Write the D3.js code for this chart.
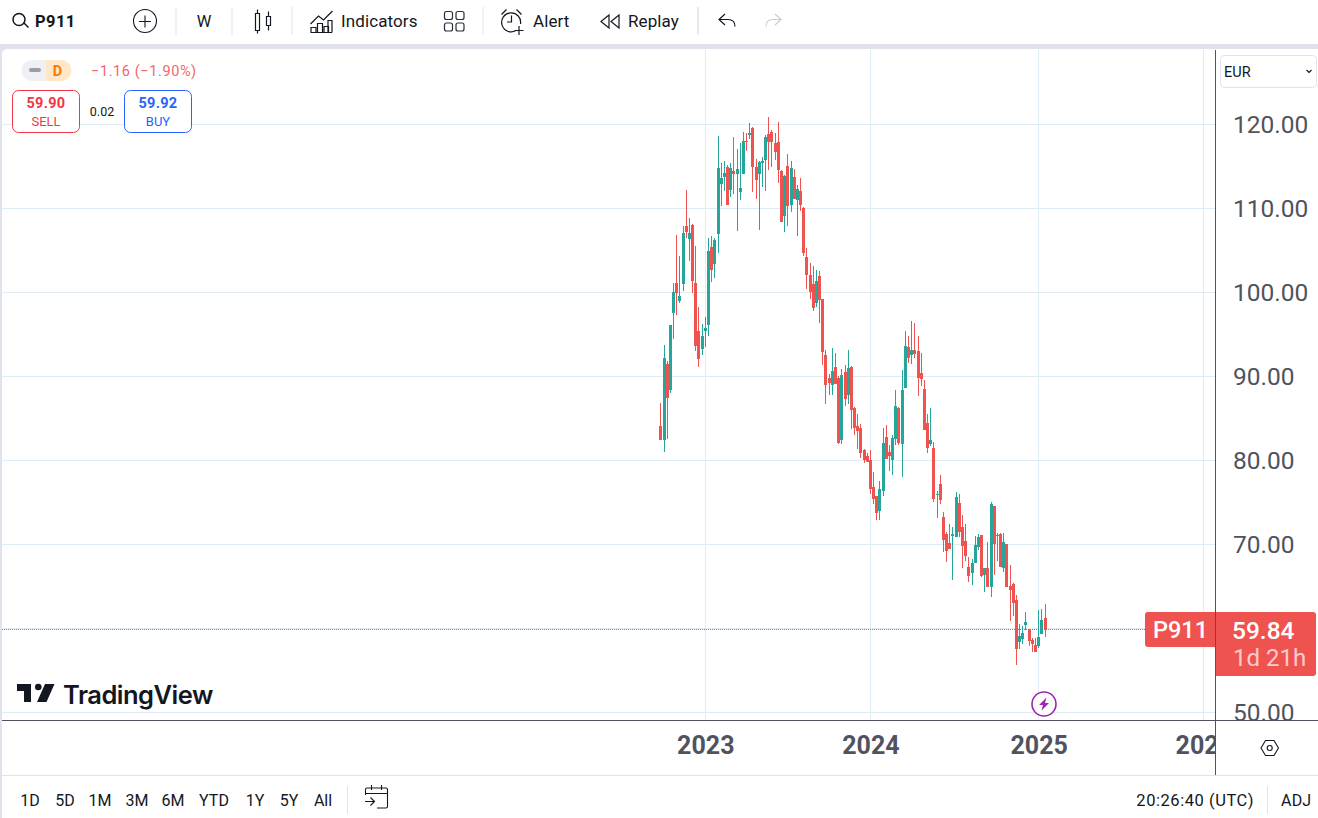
<!DOCTYPE html>
<html>
<head>
<meta charset="utf-8">
<title>P911</title>
<script src="https://cdn.jsdelivr.net/npm/d3@7"></script>
<style>
html, body { margin: 0; padding: 0; background: #fff; overflow: hidden; }
svg { display: block; font-family: Roboto, sans-serif; }
</style>
</head>
<body>
<script>
// weekly candles
var opens = [
  84.11,82.44,91.49,88.39,97.56,101.13,98.99,101.02,107.92,106.37,
  108.04,101.13,95.42,93.28,95.42,96.13,105.42,103.40,106.97,112.92,
  113.75,114.94,112.21,114.47,114.11,111.97,114.11,118.04,118.75,119.59,
  114.94,114.11,115.42,115.78,118.87,119.11,117.80,117.92,114.47,109.11,
  115.06,110.42,113.75,111.02,112.09,110.06,104.23,102.08,101.01,98.75,
  101.96,99.23,92.56,89.82,88.99,91.13,89.82,82.44,90.53,87.80,
  91.13,86.25,84.11,83.87,81.25,80.53,80.06,76.84,75.77,73.99,
  76.37,82.80,81.01,80.06,82.56,86.25,81.96,88.63,93.51,92.56,
  93.15,93.03,90.42,88.51,84.46,81.96,81.49,75.89,77.20,73.28,
  71.25,70.18,71.01,70.89,74.94,72.08,70.42,67.32,66.61,67.80,
  69.70,71.13,66.37,67.20,64.94,74.58,71.13,71.25,67.20,70.06,
  65.06,65.30,63.39,58.39,58.75,60.42,59.94,58.63,58.04,57.92,59.35,61.25
];
var highs = [
  86.85,93.75,91.85,96.13,101.13,106.85,104.35,107.92,112.21,108.87,
  108.16,105.54,98.28,96.25,97.09,106.49,106.73,106.49,118.63,115.42,
  115.66,115.18,115.42,118.52,117.09,117.80,119.11,118.99,120.18,119.71,
  115.90,115.66,116.13,118.75,120.90,119.35,118.99,120.30,114.59,113.99,
  116.49,115.66,114.71,112.80,113.63,110.18,105.30,103.51,103.15,102.68,
  102.56,99.23,93.15,90.30,93.39,92.80,90.06,90.89,91.37,93.15,
  91.25,86.37,85.53,84.34,81.37,80.89,81.25,78.63,75.77,77.56,
  83.87,84.23,81.84,83.03,88.39,86.37,90.77,95.42,94.82,96.61,
  96.37,94.82,92.80,89.58,85.53,86.25,82.20,76.37,78.27,73.87,
  71.49,72.44,72.08,76.25,76.01,73.51,72.44,68.51,68.27,71.01,
  71.25,71.13,67.20,70.30,75.06,74.58,71.37,71.37,71.37,70.06,
  67.56,65.42,63.99,60.54,60.30,61.97,59.94,58.87,58.87,62.20,62.32,62.92
];
var lows = [
  82.44,81.01,82.56,88.04,94.47,97.32,98.75,100.18,106.49,103.75,
  99.94,93.04,91.13,92.56,93.51,94.83,101.25,101.73,104.71,110.30,
  112.09,110.42,111.37,111.73,107.33,111.02,114.11,116.85,118.28,111.97,
  111.13,107.44,112.56,112.09,114.59,114.94,115.78,113.04,108.40,107.21,
  107.92,109.59,111.13,106.73,109.71,104.35,100.42,99.23,97.80,98.27,
  96.37,91.37,86.73,87.80,87.80,89.11,81.96,81.96,86.49,86.73,
  83.75,83.03,81.37,80.30,79.70,79.82,76.01,74.82,72.92,72.92,
  75.77,80.18,78.75,78.27,81.84,81.84,78.03,88.63,91.61,91.49,
  92.20,87.68,88.87,83.63,80.89,81.73,75.06,73.15,74.82,69.11,
  67.92,69.47,65.78,70.89,70.89,67.20,68.04,65.54,65.18,67.80,
  69.35,66.13,64.35,64.94,63.75,66.37,68.04,67.32,66.73,64.94,
  60.89,61.49,55.66,57.56,58.16,59.82,57.92,57.20,57.20,57.68,59.35,58.99
];
var closes = [
  82.44,92.20,87.44,96.13,100.06,99.94,99.59,107.09,107.21,107.09,
  101.37,93.63,92.09,94.82,95.78,104.94,102.68,106.25,114.83,113.63,
  114.23,110.42,114.83,114.11,114.71,112.44,118.04,117.92,118.99,114.94,
  113.40,115.54,115.66,118.52,117.92,117.92,116.73,114.59,108.40,113.87,
  110.30,114.83,111.13,112.33,110.42,104.71,102.08,100.06,98.15,101.37,
  99.11,92.92,88.99,89.23,90.65,89.11,82.08,90.18,87.32,91.01,
  86.01,83.87,83.51,80.89,80.06,79.82,76.61,75.42,73.75,76.61,
  82.08,80.18,80.53,82.68,86.49,82.08,88.39,93.63,92.20,93.15,
  92.68,89.82,89.70,83.63,81.49,82.44,75.42,76.01,75.30,70.54,
  69.23,69.47,71.25,75.66,71.49,69.82,68.63,66.25,67.80,69.94,
  70.89,66.25,67.20,64.94,74.82,70.06,71.01,67.32,70.30,64.94,
  64.58,63.04,57.56,59.11,59.47,60.78,58.51,58.16,57.20,58.99,61.01,59.84
];
var priceTicks = [50, 60, 70, 80, 90, 100, 110, 120];
var priceLabelTicks = [50, 70, 80, 90, 100, 110, 120];
var yearWeeks = [14, 66, 119, 171];
var yearLabels = ["2023", "2024", "2025", "2026"];
var lastPrice = 59.84;
var rangeLabels = ["1D", "5D", "1M", "3M", "6M", "YTD", "1Y", "5Y", "All"];
var rangeCenters = [30, 65, 100, 137, 173, 214, 255, 289, 323];

var width = 1318,
    height = 818,
    paneRight = 1215,
    paneBottom = 720,
    red = "#ef5350",
    teal = "#26a69a",
    grid = "#e0ecf3",
    ink = "#131722",
    axisInk = "#50535e",
    band = "#e0e3eb";

var x = d3.scaleLinear().domain([0, 119]).range([660.85, 1038.68]);
var y = d3.scaleLinear().domain([50, 120]).range([712.5, 124.5]);
var px = function(i) { return Math.floor(x(i)) + 0.5; };

var svg = d3.select("body").append("svg")
    .attr("width", width)
    .attr("height", height);

var defs = svg.append("defs");
defs.append("clipPath").attr("id", "pane").append("rect")
    .attr("x", 2).attr("y", 50).attr("width", paneRight - 2).attr("height", paneBottom - 50);
defs.append("clipPath").attr("id", "priceClip").append("rect")
    .attr("x", paneRight).attr("y", 50).attr("width", width - paneRight).attr("height", paneBottom - 50);
defs.append("clipPath").attr("id", "timeClip").append("rect")
    .attr("x", 0).attr("y", paneBottom).attr("width", paneRight).attr("height", 55);

// page chrome
svg.append("rect").attr("width", width).attr("height", height).attr("fill", "#fff");
svg.append("path")
    .attr("fill", band)
    .attr("d", "M0,44H1318V49H8Q2,49 2,55V818H0Z");

// grid
var gridG = svg.append("g").attr("clip-path", "url(#pane)");
gridG.selectAll(".h").data(priceTicks).enter().append("line")
    .attr("x1", 2).attr("x2", paneRight)
    .attr("y1", function(d) { return Math.floor(y(d)) + 0.5; })
    .attr("y2", function(d) { return Math.floor(y(d)) + 0.5; })
    .attr("stroke", grid);
gridG.selectAll(".v").data(yearWeeks).enter().append("line")
    .attr("x1", px).attr("x2", px)
    .attr("y1", 50).attr("y2", paneBottom)
    .attr("stroke", grid);

// last price line
svg.append("line")
    .attr("x1", 2).attr("x2", 1145)
    .attr("y1", Math.floor(y(lastPrice)) + 0.5).attr("y2", Math.floor(y(lastPrice)) + 0.5)
    .attr("stroke", red)
    .attr("stroke-dasharray", "1,1");

// candles
var candle = svg.append("g").attr("clip-path", "url(#pane)")
    .selectAll("g")
    .data(d3.range(opens.length))
    .enter().append("g")
    .attr("fill", function(i) { return closes[i] >= opens[i] ? teal : red; });

candle.append("rect")
    .attr("x", function(i) { return px(i) - 0.5; })
    .attr("width", 1)
    .attr("y", function(i) { return Math.round(y(highs[i])); })
    .attr("height", function(i) { return Math.max(1, Math.round(y(lows[i])) - Math.round(y(highs[i]))); });

candle.append("rect")
    .attr("x", function(i) { return px(i) - 1.5; })
    .attr("width", 3)
    .attr("y", function(i) { return Math.round(y(Math.max(opens[i], closes[i]))); })
    .attr("height", function(i) {
        return Math.max(1, Math.round(y(Math.min(opens[i], closes[i]))) - Math.round(y(Math.max(opens[i], closes[i]))));
    });

// axes
var priceAxis = svg.append("g")
    .attr("clip-path", "url(#priceClip)")
    .append("g")
    .attr("transform", "translate(1233,0)")
    .call(d3.axisRight(y).tickValues(priceLabelTicks).tickSize(0).tickPadding(0).tickFormat(d3.format(".2f")));
priceAxis.select(".domain").remove();
priceAxis.selectAll("text")
    .attr("font-family", "Roboto, sans-serif")
    .attr("font-size", 24.5)
    .attr("fill", axisInk);

var timeAxis = svg.append("g")
    .attr("clip-path", "url(#timeClip)")
    .append("g")
    .attr("transform", "translate(0,736)")
    .call(d3.axisBottom(x).tickValues(yearWeeks).tickSize(0).tickPadding(0)
        .tickFormat(function(d, i) { return yearLabels[i]; }));
timeAxis.select(".domain").remove();
timeAxis.selectAll("text")
    .attr("font-family", "Roboto, sans-serif")
    .attr("font-size", 25)
    .attr("font-weight", 700)
    .attr("fill", axisInk);

// pane borders
svg.append("path")
    .attr("fill", "none")
    .attr("stroke", axisInk)
    .attr("d", "M2,720.5H1318M1215.5,50V775");
svg.append("line")
    .attr("x1", 2).attr("x2", 1318).attr("y1", 775.5).attr("y2", 775.5)
    .attr("stroke", band);

function label(text, lx, ly, size, fill, anchor, weight) {
    return svg.append("text")
        .attr("x", lx).attr("y", ly)
        .attr("font-size", size)
        .attr("fill", fill)
        .attr("text-anchor", anchor || "start")
        .attr("font-weight", weight || 400)
        .attr("dominant-baseline", "central")
        .text(text);
}
function icon(d, color, w) {
    return svg.append("path")
        .attr("d", d)
        .attr("fill", "none")
        .attr("stroke", color || ink)
        .attr("stroke-width", w || 1.2);
}

// last price labels
svg.append("path").attr("fill", red)
    .attr("d", "M1215,612V647H1148Q1145,647 1145,644V615Q1145,612 1148,612Z");
svg.append("path").attr("fill", red)
    .attr("d", "M1216,612H1313Q1316,612 1316,615V673Q1316,676 1313,676H1216Z");
label("P911", 1153, 630, 23.5, "#fff", "start", 500);
label("59.84", 1232, 630, 24.5, "#fff", "start", 500);
label("1d 21h", 1233, 658, 24, "#fff").attr("opacity", 0.7);

// top toolbar
icon("M23.5,22.5l5,5", ink, 1.5);
svg.append("circle").attr("cx", 19).attr("cy", 19.5).attr("r", 6).attr("fill", "none").attr("stroke", ink).attr("stroke-width", 1.5);
label("P911", 35, 21, 16.5, ink, "start", 700).attr("letter-spacing", 0.4);
svg.append("circle").attr("cx", 145).attr("cy", 21).attr("r", 11.5).attr("fill", "none").attr("stroke", ink).attr("stroke-width", 1.1);
icon("M139,21.5H151M145,15.5V27.5", ink, 1.1);
label("W", 204, 21, 16.5, ink, "middle");
svg.selectAll(".sep").data([[176, 1], [232, 1], [292, 1], [483, 1], [698, 1.5]]).enter().append("line")
    .attr("x1", function(d) { return d[0]; }).attr("x2", function(d) { return d[0]; })
    .attr("y1", 7).attr("y2", 35)
    .attr("stroke", band)
    .attr("stroke-width", function(d) { return d[1]; });
// candles icon
icon("M255.5,13.5h4v17h-4zM257.5,9.5v4M257.5,30.5v3M266.5,16.5h4v9h-4zM268.5,11.5v5M268.5,25.5v5");
// indicators icon
icon("M310.5,24l8,-8l5,4l9,-9M311,32.5v-5h5v5M317.5,32.5v-9h5v9M324,32.5v-6h4.5v6M310.5,32.5h21.5M328,32.5v-12h4v12");
label("Indicators", 341, 21, 17, ink).attr("letter-spacing", 0.1);
// layouts icon
svg.selectAll(".cell").data([[444.5, 11.5], [456, 11.5], [444.5, 23], [456, 23]]).enter().append("rect")
    .attr("x", function(d) { return d[0]; }).attr("y", function(d) { return d[1]; })
    .attr("width", 8).attr("height", 8).attr("rx", 2)
    .attr("fill", "none").attr("stroke", "#2a2e39").attr("stroke-width", 1.2);
// alert icon
icon("M520.5,24a9.5,9.5 0 1 0 -4.5,6.5M511.5,15.5v6.5h-4.5M501.5,14.5l5,-5M516.5,9.5l5,5M519,26v9M514.5,30.5h9");
label("Alert", 533, 21, 17, ink).attr("letter-spacing", 0.1);
// replay icon
icon("M609,15l-8,6.5l8,6.5zM619,15l-8,6.5l8,6.5z");
label("Replay", 628, 21, 17, ink).attr("letter-spacing", 0.1);
// undo / redo
icon("M725,14l-6,5.5l6,5.5M719,19.5h9q7,0 7,7");
icon("M775,14l6,5.5l-6,5.5M781,19.5h-8q-7,0 -7,7", "#c9ccd5");

// left legend
svg.append("path").attr("fill", "#eef0f3").attr("d", "M46,60H32a10.5,10.5 0 0 0 0,21H46Z");
svg.append("path").attr("fill", "#ffe7c7").attr("d", "M46,60H61a10.5,10.5 0 0 1 0,21H46Z");
svg.append("rect").attr("x", 29).attr("y", 68).attr("width", 12).attr("height", 4).attr("rx", 2).attr("fill", "#9a9ea8");
label("D", 57.5, 71, 14.5, "#f57c00", "middle", 700);
label("\u22121.16 (\u22121.90%)", 91, 71, 14.5, "#f0686a").attr("letter-spacing", 0.6);

svg.append("rect").attr("x", 12.5).attr("y", 90.5).attr("width", 67).attr("height", 42).attr("rx", 6)
    .attr("fill", "#fff").attr("stroke", "#f23645");
svg.append("rect").attr("x", 124.5).attr("y", 90.5).attr("width", 67).attr("height", 42).attr("rx", 6)
    .attr("fill", "#fff").attr("stroke", "#2962ff");
label("59.90", 46, 103, 14.5, "#f23645", "middle", 700).attr("letter-spacing", 0.3);
label("SELL", 46, 121, 13, "#f23645", "middle");
label("0.02", 102, 111, 12.5, ink, "middle");
label("59.92", 158, 103, 14.5, "#2962ff", "middle", 700).attr("letter-spacing", 0.3);
label("BUY", 158, 121, 13, "#2962ff", "middle");

// currency box
svg.append("rect").attr("x", 1220.5).attr("y", 55.5).attr("width", 96).attr("height", 32).attr("rx", 4)
    .attr("fill", "#fff").attr("stroke", band);
label("EUR", 1224, 72, 14.5, ink);
icon("M1306.5,70l2.5,2.5l2.5,-2.5", ink, 1.2);

// watermark
svg.append("path").attr("fill", ink)
    .attr("d", "M17,684H31V702H24V691H17ZM45,684H54.5L46.5,702H37Z");
svg.append("circle").attr("cx", 38.3).attr("cy", 687).attr("r", 3.3).attr("fill", ink);
label("TradingView", 63, 694, 25.5, ink, "start", 600).attr("font-family", "Inter, sans-serif").attr("letter-spacing", -0.5);

// lightning marker
svg.append("circle").attr("cx", 1044).attr("cy", 704).attr("r", 12).attr("fill", "#fff").attr("stroke", "#9c27b0").attr("stroke-width", 1.6);
svg.append("path").attr("fill", "#9c27b0").attr("d", "M1046.5,697.5L1039,705H1043L1041.5,710.5L1049,703H1045Z");

// settings hexagon
icon("M1261,748l4.5,-7.5h8.5l4.5,7.5l-4.5,7.5h-8.5z", ink, 1.1);
svg.append("circle").attr("cx", 1269.7).attr("cy", 748).attr("r", 2.5).attr("fill", "none").attr("stroke", ink).attr("stroke-width", 1.1);

// bottom toolbar
svg.selectAll(".range").data(rangeLabels).enter().append("text")
    .attr("x", function(d, i) { return rangeCenters[i]; })
    .attr("y", 800)
    .attr("text-anchor", "middle")
    .attr("dominant-baseline", "central")
    .attr("font-size", 16)
    .attr("fill", ink)
    .text(function(d) { return d; });
svg.selectAll(".sep2").data([347, 1267]).enter().append("line")
    .attr("x1", function(d) { return d + 0.5; }).attr("x2", function(d) { return d + 0.5; })
    .attr("y1", 786).attr("y2", 814)
    .attr("stroke", band);
icon("M365.5,795v-5.5q0,-1.5 1.5,-1.5h19q1.5,0 1.5,1.5v17q0,1.5 -1.5,1.5h-9M365.5,793.5h22M371.5,785v5M381.5,785v5M365,801.5h9M370.5,797.5l4,4l-4,4", ink, 1.1);
label("20:26:40 (UTC)", 1254, 800, 16.5, ink, "end").attr("letter-spacing", 0.55);
label("ADJ", 1281, 800, 16, ink).attr("letter-spacing", 0.2);
</script>
</body>
</html>
